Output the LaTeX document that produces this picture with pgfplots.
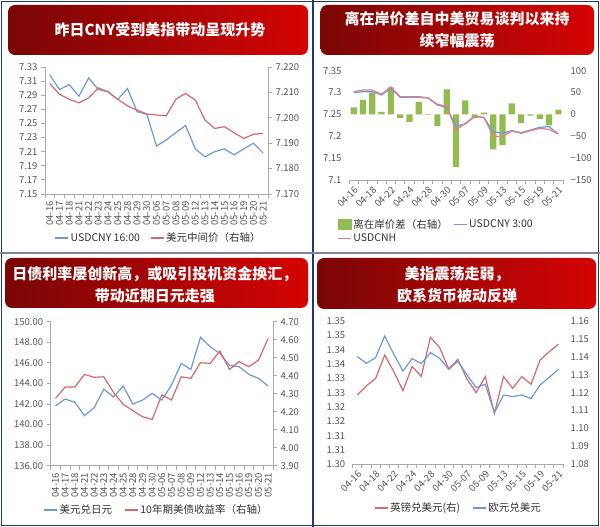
\documentclass[border=0pt]{standalone}
\usepackage{pgfplots}
\usepackage{pgfplotstable}
\pgfplotsset{compat=1.18}
\usepackage{fontspec}
\setmainfont{Noto Sans CJK SC}
\definecolor{cblue}{RGB}{106,155,215}
\definecolor{cred}{RGB}{214,106,106}
\definecolor{cred2}{RGB}{226,128,128}
\definecolor{cgreen}{RGB}{146,188,80}
\definecolor{navy}{RGB}{32,56,100}
\definecolor{dred}{RGB}{122,6,6}
\definecolor{bred}{RGB}{212,4,4}
\definecolor{axgray}{RGB}{170,170,170}
\definecolor{lblgray}{RGB}{85,85,85}

\pgfplotstableread{
idx cnyA mid gap cnyB cnh jpy ust gbp eur
0 7.3187 7.2135 16 7.3000 7.3020 141.83 4.274 1.3242 1.1401
1 7.2980 7.2092 33 7.3020 7.3058 142.48 4.337 1.3274 1.1364
2 7.3050 7.2073 50 7.3020 7.3058 142.16 4.337 1.3299 1.1395
3 7.2886 7.2059 6 7.2944 7.2960 140.86 4.407 1.3381 1.1516
4 7.3145 7.2078 62 7.3096 7.3130 141.64 4.391 1.3323 1.1414
5 7.2980 7.2118 -8 7.2890 7.2906 143.45 4.394 1.3257 1.1321
6 7.2950 7.2102 -17 7.2890 7.2906 142.67 4.307 1.3341 1.1390
7 7.2840 7.2073 28 7.2890 7.2906 143.74 4.241 1.3307 1.1362
8 7.2995 7.2047 -1 7.2875 7.2880 141.99 4.206 1.3443 1.1423
9 7.2666 7.2030 -27 7.2715 7.2730 142.38 4.172 1.3408 1.1392
10 7.2630 7.2015 57 7.2660 7.2690 143.03 4.157 1.3333 1.1330
11 7.2180 7.2011 -120 7.2235 7.2143 142.38 4.293 1.3366 1.1375
12 7.2266 7.2008 32 7.2280 7.2296 143.84 4.265 1.3297 1.1299
13 7.2370 7.2073 -8 7.2448 7.2463 145.95 4.394 1.3250 1.1228
14 7.2470 7.2096 4 7.2430 7.2430 145.36 4.385 1.3306 1.1247
15 7.2140 7.2070 -80 7.2105 7.2006 148.48 4.472 1.3178 1.1088
16 7.2027 7.1991 -70 7.2067 7.1990 147.57 4.469 1.3306 1.1187
17 7.2100 7.1958 25 7.2128 7.2120 146.92 4.537 1.3265 1.1178
18 7.2140 7.1965 -20 7.2082 7.2067 145.75 4.435 1.3306 1.1187
19 7.2055 7.1941 -3 7.2143 7.2128 145.62 4.478 1.3279 1.1167
20 7.2140 7.1919 -10 7.2204 7.2181 144.88 4.450 1.3364 1.1243
21 7.2220 7.1935 -25 7.2220 7.2158 144.49 4.487 1.3393 1.1286
22 7.2080 7.1939 11 7.2052 7.2052 143.74 4.607 1.3419 1.1330
}\data

\pgfplotsset{
  every axis/.append style={
    scale only axis, xmin=-0.5, xmax=22.5,
    axis line style={draw=axgray, line width=0.8pt, -},
    tick align=outside,
    major tick length=4pt, minor tick length=4pt,
    tick style={axgray, line width=0.8pt},
    ticklabel style={font=\fontsize{9.5}{11}\selectfont, text=lblgray},
    /pgf/number format/assume math mode=true,
    scaled y ticks=false,
    legend style={draw=none, fill=none, font=\fontsize{10.5}{12}\selectfont, text=black!80, legend cell align=left},
    legend image code/.code={\draw[#1] (0pt,0pt) -- (13pt,0pt);},
  },
  bottomx/.style={axis x line*=bottom, xtick pos=bottom, xtick={0,...,22},
    minor xtick={-0.5,0.5,...,22.5}, major x tick style={draw=none}},
  leftaxis/.style={axis y line*=left, ytick pos=left},
  rightaxis/.style={axis y line*=right, ytick pos=right, axis x line=none},
  fix2/.style={yticklabel style={/pgf/number format/fixed, /pgf/number format/fixed zerofill, /pgf/number format/precision=2}},
  fix3/.style={yticklabel style={/pgf/number format/fixed, /pgf/number format/fixed zerofill, /pgf/number format/precision=3}},
  alldates/.style={xticklabels={04-16,04-17,04-18,04-21,04-22,04-23,04-24,04-25,04-28,04-29,04-30,05-06,05-07,05-08,05-09,05-12,05-13,05-14,05-15,05-16,05-19,05-20,05-21},
    xticklabel style={yshift=-2.5pt, rotate=90, anchor=east, inner sep=0.5pt}},
  halfdates/.style={xtick={0,2,...,22}, xticklabels={04-16,04-18,04-22,04-24,04-28,04-30,05-07,05-09,05-13,05-15,05-19,05-21},
    xticklabel style={rotate=45, anchor=north east, inner sep=1pt}},
  noyline/.style={y axis line style={draw=none}, ytick style={draw=none}},
}

\begin{document}
\begin{tikzpicture}
\useasboundingbox (0,0) rectangle (600pt,527pt);
\fill[white] (0,0) rectangle (600pt,527pt);

\begin{scope}[x=1pt,y=-1pt,yshift=527pt]
  % banners
  \shade[left color=dred, right color=bred, rounded corners=7pt] (8,5) rectangle (308,55);
  \shade[left color=dred, right color=bred, rounded corners=7pt] (320.5,5) rectangle (594,55);
  \shade[left color=dred, right color=bred, rounded corners=7pt] (5,258) rectangle (308,308);
  \shade[left color=dred, right color=bred, rounded corners=7pt] (317,258) rectangle (596,309);
  \begin{scope}[every node/.style={text=white, font=\fontsize{15}{21.5}\selectfont\bfseries, align=center}]
    \node at (160,30) {昨日CNY受到美指带动呈现升势};
    \node at (457,30) {离在岸价差自中美贸易谈判以来持\\续窄幅震荡};
    \node at (155,285) {日债利率屡创新高，或吸引投机资金换汇，\\带动近期日元走强};
    \node at (457,285) {美指震荡走弱，\\欧系货币被动反弹};
  \end{scope}
  % frame
  \draw[navy, line width=1.3pt] (1.5,1.5) rectangle (598.5,525.5);
  \draw[navy, line width=1.2pt] (313,0) -- (313,527);
  \draw[navy!60, line width=1.6pt] (0,253) -- (600,253);
\end{scope}

% ---------------- Panel 1 ----------------
\begin{axis}[at={(45pt,333pt)}, anchor=south west, width=223pt, height=127pt,
  bottomx, leftaxis, alldates, fix2,
  ymin=7.15, ymax=7.33, ytick={7.15,7.17,7.19,7.21,7.23,7.25,7.27,7.29,7.31,7.33}]
\addplot[cblue, line width=1.2pt] table[x=idx,y=cnyA]{\data};
\end{axis}
\begin{axis}[at={(45pt,333pt)}, anchor=south west, width=223pt, height=127pt,
  rightaxis, fix3,
  ymin=7.17, ymax=7.22, ytick={7.17,7.18,7.19,7.20,7.21,7.22},
  legend columns=2,
  legend style={at={(axis description cs:0.509,-0.346)}, anchor=center,
    /tikz/every even column/.append style={column sep=8pt}}]
\addlegendimage{cblue, line width=1.2pt}
\addlegendentry{USDCNY 16:00}
\addplot[cred, line width=1.2pt] table[x=idx,y=mid]{\data};
\addlegendentry{美元中间价（右轴）}
\end{axis}

% ---------------- Panel 2 ----------------
\begin{axis}[at={(349pt,347pt)}, anchor=south west, width=214pt, height=109.3pt,
  bottomx, halfdates, axis y line*=right, ytick pos=right, noyline,
  ymin=-150, ymax=100, ytick={-150,-100,-50,0,50,100},
  yticklabels={−150,−100,−50,0,50,100},
  ybar, bar width=6.2pt]
\addplot[fill=cgreen, draw=none] table[x=idx,y=gap]{\data};
\end{axis}
\begin{axis}[at={(349pt,347pt)}, anchor=south west, width=214pt, height=109.3pt,
  axis x line=none, axis y line*=left, ytick pos=left, noyline,
  ymin=7.1, ymax=7.35, ytick={7.1,7.15,7.2,7.25,7.3,7.35},
  yticklabels={7.1,7.15,7.2,7.25,7.3,7.35},
  legend columns=2,
  legend style={at={(axis description cs:-0.07,-0.32)}, anchor=north west,
    /tikz/every even column/.append style={column sep=3pt}}]
\addlegendimage{legend image code/.code={\fill[cgreen] (0pt,-5pt) rectangle (13pt,5pt);}}
\addlegendentry{离在岸价差（右轴）}
\addplot[cblue, line width=1.2pt] table[x=idx,y=cnyB]{\data};
\addlegendentry{USDCNY 3:00}
\addplot[cred2, line width=1.2pt] table[x=idx,y=cnh]{\data};
\addlegendentry{USDCNH}
\end{axis}

% ---------------- Panel 3 ----------------
\begin{axis}[at={(50.7pt,61.3pt)}, anchor=south west, width=222.3pt, height=144pt,
  bottomx, leftaxis, alldates, fix2,
  ymin=136, ymax=150, ytick={136,138,140,142,144,146,148,150}]
\addplot[cblue, line width=1.2pt] table[x=idx,y=jpy]{\data};
\end{axis}
\begin{axis}[at={(50.7pt,61.3pt)}, anchor=south west, width=222.3pt, height=144pt,
  rightaxis, fix2,
  ymin=3.9, ymax=4.7, ytick={3.9,4.0,4.1,4.2,4.3,4.4,4.5,4.6,4.7},
  legend columns=2,
  legend style={at={(axis description cs:0.476,-0.308)}, anchor=center,
    /tikz/every even column/.append style={column sep=10pt}}]
\addlegendimage{cblue, line width=1.2pt}
\addlegendentry{美元兑日元}
\addplot[cred, line width=1.2pt] table[x=idx,y=ust]{\data};
\addlegendentry{10年期美债收益率（右轴）}
\end{axis}

% ---------------- Panel 4 ----------------
\begin{axis}[at={(352.7pt,62.7pt)}, anchor=south west, width=210.3pt, height=143.3pt,
  bottomx, halfdates, axis y line*=left, ytick pos=left, noyline,
  ymin=1.30, ymax=1.35, ytick={1.30,1.305,1.31,1.315,1.32,1.325,1.33,1.335,1.34,1.345,1.35},
  yticklabels={1.30,1.31,1.31,1.32,1.32,1.33,1.33,1.34,1.34,1.35,1.35}]
\addplot[cred, line width=1.2pt] table[x=idx,y=gbp]{\data};
\end{axis}
\begin{axis}[at={(352.7pt,62.7pt)}, anchor=south west, width=210.3pt, height=143.3pt,
  rightaxis, noyline, fix2,
  ymin=1.08, ymax=1.16, ytick={1.08,1.09,1.10,1.11,1.12,1.13,1.14,1.15,1.16},
  legend columns=2,
  legend style={at={(axis description cs:0.503,-0.305)}, anchor=center,
    /tikz/every even column/.append style={column sep=10pt}}]
\addlegendimage{cred, line width=1.2pt}
\addlegendentry{英镑兑美元(右)}
\addplot[cblue, line width=1.2pt] table[x=idx,y=eur]{\data};
\addlegendentry{欧元兑美元}
\end{axis}
\end{tikzpicture}
\end{document}
